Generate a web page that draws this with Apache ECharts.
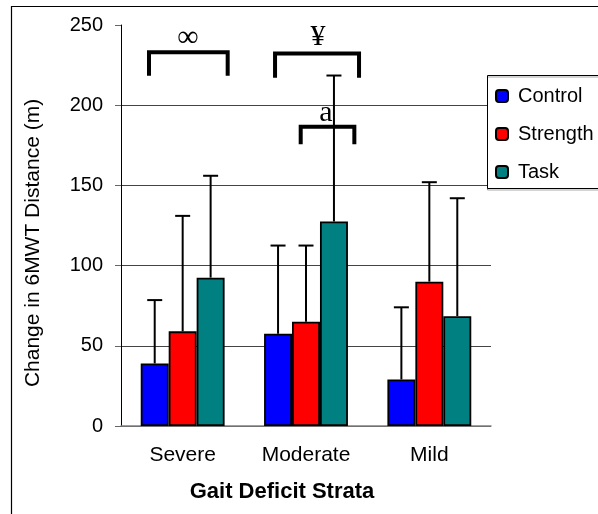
<!DOCTYPE html>
<html>
<head>
<meta charset="utf-8">
<script src="https://cdn.jsdelivr.net/npm/echarts@6/dist/echarts.min.js"></script>
<style>
  body { margin: 0; background: #fff; }
  #graph { width: 598px; height: 514px; }
</style>
</head>
<body>
<div id="graph"></div>
<script>
// 数据
const categories = ['Severe', 'Moderate', 'Mild']
const seriesNames = ['Control', 'Strength', 'Task']
const control = [39, 57.5, 29]
const strength = [59, 65, 90]
const task = [92.5, 127.5, 68.5]
// 误差线（只画上半部分）
const controlSd = [39.5, 55, 45]
const strengthSd = [72, 47.5, 62]
const taskSd = [63.5, 91, 73.5]
const yTicks = [0, 50, 100, 150, 200, 250]

// 显著性标记: 左端, 右端 (按组的位置), 顶部值, 腿部底端值, 符号
const bracketLeft = [0.227, 1.249, 1.457]
const bracketRight = [0.865, 1.93, 1.892]
const bracketTop = [233, 232.3, 186.5]
const bracketFoot = [218.4, 217.1, 175.6]
const bracketMarkX = [0.543, 1.597, 1.662]
const bracketMarkY = [241.6, 242.4, 195.2]
const bracketMarks = ['∞', '¥', 'a']

const colors = ['#0000ff', '#ff0000', '#008080']
const catGap = 0.32
const font = '"Liberation Sans", Arial, sans-serif'

const means = [control, strength, task]
const sds = [controlSd, strengthSd, taskSd]

let errData = []
means.forEach((arr, k) => {
  arr.forEach((v, i) => {
    errData.push([i, k, v, v + sds[k][i]])
  })
})

let bracketData = bracketLeft.map((x0, i) => [x0, bracketRight[i], bracketTop[i], bracketFoot[i]])
let markData = bracketMarks.map((m, i) => [bracketMarkX[i], bracketMarkY[i], m])

let chart = echarts.init(document.getElementById('graph'))

chart.setOption({
  backgroundColor: '#fff',
  animation: false,
  textStyle: { fontFamily: font, color: '#000' },
  grid: { left: 121, top: 25, right: 107, bottom: 88 },
  legend: {
    data: seriesNames,
    orient: 'vertical',
    left: 487,
    top: 75,
    padding: [11, 4, 6, 8],
    itemWidth: 12,
    itemHeight: 12,
    itemGap: 18,
    backgroundColor: '#fff',
    borderWidth: 0,
    textStyle: { fontSize: 20, fontFamily: font, color: '#000', padding: [0, 0, 0, 5] }
  },
  xAxis: [
    {
      type: 'category',
      data: categories,
      axisLine: { lineStyle: { color: '#808080', width: 1.5 } },
      axisTick: { length: 6, lineStyle: { color: '#000' } },
      axisLabel: { fontSize: 21, color: '#000', margin: 19 }
    },
    { type: 'value', min: 0, max: 3, show: false }
  ],
  yAxis: {
    type: 'value',
    min: yTicks[0],
    max: yTicks[yTicks.length - 1],
    interval: 50,
    axisLine: { show: true, lineStyle: { color: '#000' } },
    axisTick: { show: true, length: 6, lineStyle: { color: '#666' } },
    axisLabel: { fontSize: 20, color: '#000', margin: 18 },
    splitLine: { showMaxLine: false, lineStyle: { color: '#444', width: 1 } }
  },
  graphic: [
    {
      type: 'rect', z: -10, silent: true,
      shape: { x: 11.5, y: 6.5, width: 640, height: 560 },
      style: { fill: 'none', stroke: '#000', lineWidth: 1.2 }
    },
    {
      // 图例边框，右侧超出画面
      type: 'rect', z: 100, silent: true,
      shape: { x: 487.5, y: 75.5, width: 200, height: 113 },
      style: { fill: 'none', stroke: '#000', lineWidth: 1, shadowColor: 'rgba(0,0,0,0.35)', shadowOffsetY: 1.5 }
    },
    {
      type: 'text', x: 33, y: 243, rotation: Math.PI / 2,
      style: {
        text: 'Change in 6MWT Distance (m)', font: '21px ' + font,
        fill: '#000', textAlign: 'center', textVerticalAlign: 'middle'
      }
    },
    {
      type: 'text', x: 282, y: 492,
      style: {
        text: 'Gait Deficit Strata', font: 'bold 22px ' + font,
        fill: '#000', textAlign: 'center', textVerticalAlign: 'middle'
      }
    }
  ],
  series: [
    ...seriesNames.map((name, k) => ({
      name: name,
      type: 'bar',
      data: means[k],
      barGap: '0%',
      barCategoryGap: (catGap * 100) + '%',
      itemStyle: { color: colors[k], borderColor: '#000', borderWidth: 1.8 }
    })),
    {
      // 误差线
      type: 'custom',
      z: 5,
      data: errData,
      renderItem: (params, api) => {
        let band = api.size([1, 0])[0]
        let barW = band * (1 - catGap) / 3
        let c = api.coord([api.value(0), 0])
        let x = c[0] + (api.value(1) - 1) * barW
        let y0 = api.coord([api.value(0), api.value(2)])[1]
        let y1 = api.coord([api.value(0), api.value(3)])[1]
        let style = { stroke: '#000', lineWidth: 2 }
        return {
          type: 'group',
          children: [
            { type: 'line', shape: { x1: x, y1: y0, x2: x, y2: y1 }, style: style },
            { type: 'line', shape: { x1: x - 7.5, y1: y1, x2: x + 7.5, y2: y1 }, style: style }
          ]
        }
      }
    },
    {
      // 显著性括号
      type: 'custom',
      xAxisIndex: 1,
      z: 6,
      data: bracketData,
      renderItem: (params, api) => {
        let a = api.coord([api.value(0), api.value(2)])
        let b = api.coord([api.value(1), api.value(3)])
        return {
          type: 'polyline',
          shape: { points: [[a[0], b[1]], [a[0], a[1]], [b[0], a[1]], [b[0], b[1]]] },
          style: { stroke: '#000', lineWidth: 4, fill: null, lineJoin: 'miter' }
        }
      }
    },
    {
      type: 'custom',
      xAxisIndex: 1,
      z: 6,
      data: markData,
      renderItem: (params, api) => {
        let p = api.coord([api.value(0), api.value(1)])
        return {
          type: 'text',
          x: p[0], y: p[1],
          style: {
            text: markData[params.dataIndex][2],
            font: '30px "Liberation Serif", "Times New Roman", serif',
            fill: '#000', textAlign: 'center', textVerticalAlign: 'middle'
          }
        }
      }
    }
  ]
})
</script>
</body>
</html>
